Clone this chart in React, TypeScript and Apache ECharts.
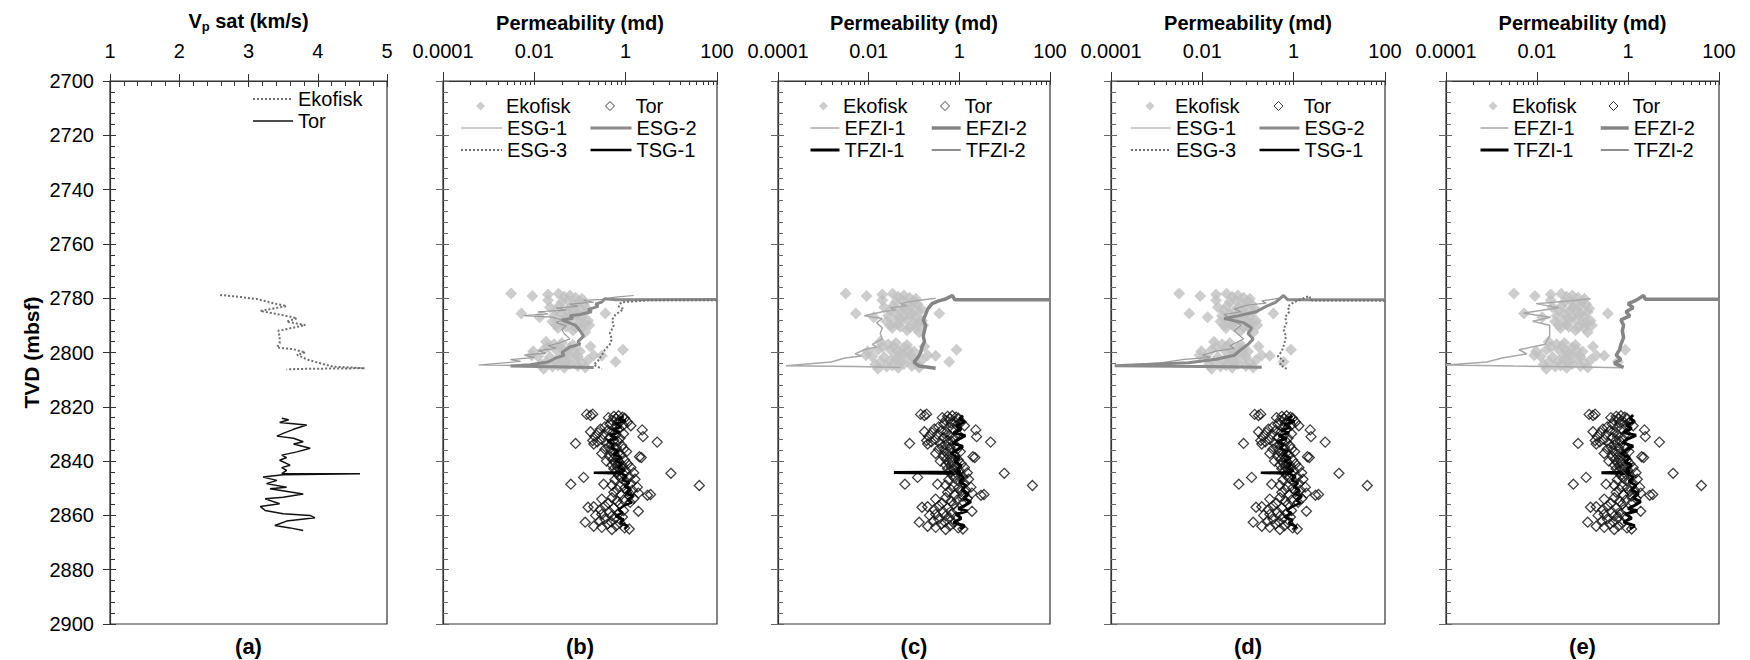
import React, { useEffect, useRef } from 'react';
import * as echarts from 'echarts';

// ---------------- DATA ----------------
// Panel (a): Vp sat (km/s) vs TVD (mbsf)
const vpEkofisk: number[][] = [
  [2.59, 2778.8], [2.9, 2779.6], [3.12, 2780.3], [3.36, 2781.9], [3.55, 2782.9], [3.17, 2784.7],
  [3.36, 2785.6], [3.6, 2786.8], [3.7, 2787.4], [3.55, 2788.6], [3.82, 2789.9], [3.6, 2791.1],
  [3.43, 2792.0], [3.45, 2794.2], [3.45, 2796.6], [3.41, 2798.1], [3.65, 2798.8], [3.82, 2800.0],
  [3.7, 2800.9], [3.86, 2802.7], [4.0, 2803.7], [4.22, 2805.2], [4.68, 2805.8], [3.84, 2806.0], [3.55, 2806.2],
];
const vpTor: number[][] = [
  [3.48, 2824.2], [3.58, 2824.8], [3.45, 2825.8], [3.84, 2826.7], [3.65, 2828.3], [3.5, 2829.8],
  [3.41, 2830.8], [3.65, 2831.6], [3.79, 2832.9], [3.65, 2833.7], [3.89, 2835.3], [3.7, 2836.6],
  [3.48, 2837.8], [3.55, 2838.7], [3.45, 2839.7], [3.6, 2841.5], [3.48, 2842.4], [3.55, 2843.4],
  [3.48, 2844.6], [4.61, 2844.7], [3.5, 2845.0], [3.21, 2845.9], [3.41, 2847.1], [3.26, 2848.3],
  [3.55, 2849.6], [3.31, 2850.2], [3.79, 2852.1], [3.5, 2853.3], [3.24, 2853.9], [3.45, 2855.7],
  [3.17, 2856.7], [3.24, 2858.2], [3.5, 2859.4], [3.89, 2860.0], [3.96, 2860.9], [3.55, 2862.1],
  [3.38, 2863.7], [3.6, 2864.6], [3.79, 2865.6],
];

// Core permeability (md) vs TVD, shared by panels (b)-(e)
const permEkofisk: number[][] = [
  [0.0031, 2778.3], [0.009, 2779.2], [0.02, 2778.6], [0.034, 2778.4], [0.045, 2779.5], [0.06, 2779.0],
  [0.08, 2779.8], [0.11, 2780.2], [0.02, 2780.8], [0.04, 2781.4], [0.055, 2781.0], [0.075, 2782.0],
  [0.12, 2782.2], [0.09, 2783.0], [0.06, 2783.6], [0.14, 2783.8], [0.03, 2784.5], [0.05, 2784.8],
  [0.0052, 2785.6], [0.04, 2785.7], [0.09, 2785.4], [0.13, 2785.0], [0.36, 2785.6], [0.013, 2787.0],
  [0.027, 2786.5], [0.06, 2786.8], [0.11, 2787.0], [0.025, 2788.6], [0.04, 2788.0], [0.07, 2788.2],
  [0.15, 2788.3], [0.1, 2789.3], [0.045, 2789.6], [0.033, 2791.0], [0.05, 2790.5], [0.11, 2791.0],
  [0.07, 2791.8], [0.13, 2792.5], [0.16, 2790.0], [0.035, 2782.8], [0.065, 2784.2], [0.1, 2781.2],
  [0.022, 2783.3], [0.085, 2786.2], [0.05, 2787.6], [0.12, 2789.0], [0.03, 2790.0], [0.08, 2790.8],
  [0.018, 2796.0], [0.027, 2797.0], [0.04, 2796.5], [0.17, 2797.8], [0.0095, 2799.5], [0.016, 2799.0],
  [0.03, 2799.0], [0.045, 2799.5], [0.075, 2799.0], [0.1, 2799.6], [0.87, 2799.0], [0.06, 2798.2],
  [0.0087, 2801.0], [0.012, 2801.5], [0.022, 2801.7], [0.04, 2801.2], [0.055, 2800.6], [0.075, 2802.0],
  [0.15, 2802.8], [0.2, 2801.0], [0.6, 2803.4], [0.03, 2803.0], [0.05, 2803.8], [0.016, 2806.0],
  [0.033, 2804.8], [0.06, 2804.2], [0.09, 2805.0], [0.13, 2805.5], [0.025, 2805.2], [0.3, 2801.2],
  [0.02, 2798.0], [0.035, 2797.8], [0.05, 2800.2], [0.09, 2801.6], [0.018, 2803.5], [0.11, 2803.9],
  [0.07, 2797.2], [0.04, 2802.6], [0.014, 2804.4], [0.045, 2805.6],
];
const permTor: number[][] = [
  [0.14, 2822.8], [0.19, 2822.7], [0.17, 2823.2], [0.42, 2824.0], [0.55, 2823.5], [0.7, 2823.3],
  [0.85, 2823.8], [0.62, 2824.4], [0.95, 2824.2], [0.5, 2825.0], [0.78, 2825.3], [1.1, 2825.6],
  [0.66, 2826.0], [1.3, 2827.0], [0.45, 2826.4], [0.88, 2826.8], [0.35, 2827.4], [0.58, 2827.6],
  [0.28, 2828.2], [0.72, 2828.1], [2.3, 2828.5], [0.4, 2828.8], [0.17, 2829.2], [0.25, 2829.6],
  [0.52, 2829.4], [0.9, 2829.9], [0.33, 2830.2], [0.6, 2830.5], [0.21, 2830.9], [2.4, 2831.0],
  [0.45, 2831.3], [0.75, 2831.6], [0.3, 2832.0], [0.19, 2832.4], [0.55, 2832.3], [0.24, 2832.9],
  [0.68, 2832.8], [0.08, 2833.5], [4.9, 2833.0], [0.38, 2833.4], [0.2, 2833.7], [0.5, 2834.0],
  [0.82, 2834.3], [0.42, 2834.8], [0.63, 2835.2], [0.35, 2835.6], [0.9, 2835.5], [1.05, 2836.5],
  [0.48, 2836.2], [0.7, 2836.8], [0.3, 2837.2], [0.56, 2837.5], [0.8, 2837.8], [2.0, 2838.4],
  [2.2, 2838.7], [0.45, 2838.3], [0.65, 2838.9], [0.52, 2839.4], [0.95, 2839.6], [0.38, 2840.0],
  [0.72, 2840.3], [0.6, 2840.8], [1.1, 2841.0], [0.5, 2841.4], [0.85, 2841.7], [0.66, 2842.2],
  [1.3, 2842.4], [0.55, 2842.8], [0.78, 2843.2], [1.0, 2843.5], [0.62, 2844.0], [9.8, 2844.5],
  [1.5, 2844.3], [0.9, 2844.8], [0.7, 2845.3], [0.12, 2846.0], [1.2, 2845.8], [0.8, 2846.3],
  [1.6, 2846.7], [0.58, 2846.9], [1.0, 2847.4], [0.063, 2848.5], [0.33, 2848.5], [0.5, 2848.9],
  [1.3, 2848.2], [41, 2849.0], [0.75, 2849.3], [1.8, 2849.6], [0.95, 2850.0], [0.65, 2850.4],
  [1.4, 2850.7], [1.1, 2851.2], [0.55, 2851.5], [1.9, 2851.8], [3.0, 2852.6], [3.5, 2852.3],
  [0.8, 2852.4], [1.2, 2852.9], [0.3, 2854.0], [0.5, 2853.5], [1.5, 2853.8], [0.9, 2854.3],
  [0.65, 2854.8], [1.25, 2855.2], [0.42, 2855.5], [0.75, 2855.9], [0.2, 2856.8], [0.15, 2857.0],
  [0.35, 2856.5], [0.55, 2857.3], [0.28, 2857.8], [1.9, 2858.5], [0.9, 2858.2], [0.45, 2858.8],
  [0.7, 2859.3], [0.3, 2859.6], [0.22, 2860.0], [0.5, 2860.2], [0.85, 2860.6], [0.6, 2861.0],
  [0.35, 2861.3], [0.13, 2862.5], [0.27, 2862.0], [0.48, 2862.4], [0.75, 2862.8], [0.4, 2863.2],
  [0.2, 2864.0], [0.3, 2864.4], [0.62, 2863.8], [0.95, 2864.6], [1.2, 2865.0], [0.5, 2865.2],
];

// Panel (b): ESG / TSG model permeability
const bESG1: number[][] = [
  [1.5, 2779.0], [0.6, 2779.6], [0.3, 2780.4], [0.12, 2780.8], [0.2, 2781.5], [0.06, 2782.2],
  [0.09, 2783.0], [0.03, 2783.6], [0.05, 2784.4], [0.012, 2785.0], [0.02, 2785.8], [0.006, 2786.4],
  [0.025, 2787.0], [0.04, 2788.0], [0.03, 2789.0], [0.05, 2790.2], [0.04, 2791.5], [0.045, 2793.0],
  [0.06, 2795.0], [0.035, 2796.5], [0.02, 2797.5], [0.03, 2798.5], [0.012, 2799.3], [0.018, 2800.2],
  [0.006, 2801.0], [0.01, 2801.8], [0.003, 2802.6], [0.005, 2803.3], [0.0006, 2804.6], [0.01, 2804.9],
  [0.05, 2805.3],
];
const bESG2: number[][] = [
  [100, 2780.5], [0.6, 2780.6], [0.35, 2780.2], [0.3, 2781.4], [0.22, 2782.2], [0.25, 2783.0],
  [0.15, 2784.2], [0.18, 2785.0], [0.1, 2786.0], [0.06, 2786.5], [0.07, 2787.4], [0.04, 2788.0],
  [0.08, 2790.0], [0.1, 2792.0], [0.12, 2794.0], [0.09, 2796.0], [0.1, 2797.0], [0.06, 2798.0],
  [0.04, 2800.0], [0.045, 2801.0], [0.03, 2802.0], [0.02, 2803.5], [0.008, 2804.5], [0.003, 2805.0],
  [0.05, 2805.3], [0.2, 2805.5],
];
const bESG3: number[][] = [
  [100, 2780.8], [3.0, 2780.8], [0.8, 2781.5], [0.7, 2783.0], [0.9, 2784.0], [0.6, 2786.0],
  [0.5, 2788.0], [0.55, 2790.0], [0.45, 2793.0], [0.5, 2795.0], [0.45, 2797.0], [0.35, 2799.0],
  [0.3, 2801.0], [0.25, 2803.0], [0.2, 2804.5], [0.3, 2806.0],
];
const bTSG1: number[][] = [
  [0.9, 2823.5], [0.7, 2824.5], [1.0, 2825.2], [0.6, 2826.3], [0.8, 2827.5], [0.5, 2828.4],
  [0.75, 2829.3], [0.45, 2830.5], [0.65, 2831.5], [0.4, 2832.6], [0.55, 2833.8], [0.48, 2835.0],
  [0.7, 2836.2], [0.55, 2837.5], [0.8, 2838.6], [0.6, 2839.8], [0.85, 2841.0], [0.7, 2842.3],
  [0.95, 2843.5], [0.75, 2844.1], [0.2, 2844.3], [0.8, 2844.6], [1.05, 2845.5], [0.85, 2846.8],
  [1.2, 2848.0], [0.95, 2849.3], [1.3, 2850.5], [1.0, 2851.8], [1.45, 2853.0], [1.1, 2854.2],
  [1.35, 2855.3], [0.9, 2856.5], [0.7, 2857.8], [0.85, 2859.0], [0.6, 2860.3], [0.9, 2861.5],
  [0.75, 2862.7], [1.1, 2863.9], [0.95, 2865.0],
];

// Panel (c): EFZI / TFZI model permeability
const cEFZI1: number[][] = [
  [0.3, 2780.0], [0.1, 2781.0], [0.05, 2782.0], [0.07, 2782.8], [0.03, 2783.5], [0.04, 2784.3],
  [0.02, 2785.0], [0.008, 2786.5], [0.02, 2787.5], [0.015, 2789.0], [0.02, 2791.0], [0.018, 2793.0],
  [0.02, 2795.0], [0.012, 2797.0], [0.015, 2798.0], [0.008, 2799.0], [0.005, 2800.5], [0.007, 2801.3],
  [0.003, 2802.0], [0.0015, 2803.5], [0.00015, 2804.9], [0.005, 2805.2], [0.05, 2805.5],
];
const cEFZI2: number[][] = [
  [100, 2780.6], [0.8, 2780.6], [0.7, 2779.0], [0.5, 2780.3], [0.35, 2781.0], [0.25, 2782.0],
  [0.2, 2784.0], [0.18, 2786.0], [0.16, 2788.0], [0.18, 2790.0], [0.17, 2792.0], [0.16, 2794.0],
  [0.17, 2796.0], [0.15, 2798.0], [0.14, 2800.0], [0.12, 2802.0], [0.1, 2803.5], [0.13, 2805.0],
  [0.3, 2805.8],
];
const cTFZI1: number[][] = [
  [1.2, 2823.2], [1.0, 2824.4], [1.3, 2825.6], [0.85, 2827.0], [1.1, 2828.2], [0.75, 2829.6],
  [1.35, 2830.6], [0.95, 2832.0], [0.7, 2833.4], [1.2, 2834.6], [0.85, 2836.1], [0.65, 2837.5],
  [1.0, 2838.9], [0.8, 2840.3], [1.1, 2841.6], [0.9, 2843.0], [1.05, 2844.0], [0.036, 2844.2],
  [0.95, 2844.6], [1.25, 2846.0], [1.0, 2847.6], [1.4, 2849.0], [1.15, 2850.6], [1.6, 2852.1],
  [1.25, 2853.6], [1.8, 2855.0], [1.3, 2856.4], [0.95, 2857.6], [1.5, 2858.4], [0.85, 2859.6],
  [1.1, 2861.1], [0.75, 2862.6], [1.3, 2863.9], [1.05, 2865.1],
];
const cTFZI2: number[][] = [
  [0.75, 2823.5], [0.55, 2825.0], [0.7, 2826.5], [0.48, 2828.0], [0.6, 2829.5], [0.42, 2831.0],
  [0.58, 2832.5], [0.47, 2834.0], [0.66, 2835.5], [0.52, 2837.0], [0.75, 2838.5], [0.6, 2840.0],
  [0.85, 2841.5], [0.66, 2843.0], [0.8, 2844.5], [0.95, 2846.0], [0.76, 2847.5], [1.05, 2849.0],
  [0.85, 2850.5], [1.15, 2852.0], [0.9, 2853.5], [1.05, 2855.0], [0.7, 2856.5], [0.52, 2858.0],
  [0.66, 2859.5], [0.48, 2861.0], [0.62, 2862.5], [0.76, 2864.0], [0.66, 2865.2],
];

// Panel (d): ESG / TSG model permeability
const dESG1: number[][] = [
  [0.5, 2780.0], [0.2, 2781.0], [0.25, 2781.8], [0.1, 2782.5], [0.05, 2784.0], [0.07, 2785.0],
  [0.03, 2786.0], [0.045, 2788.0], [0.07, 2790.0], [0.05, 2792.0], [0.08, 2795.0], [0.04, 2797.5],
  [0.05, 2798.5], [0.02, 2799.5], [0.01, 2801.0], [0.015, 2801.8], [0.004, 2802.5], [0.0012, 2803.8],
  [0.0002, 2804.7], [0.02, 2805.0], [0.1, 2805.3],
];
const dESG2: number[][] = [
  [100, 2780.6], [0.74, 2780.6], [0.6, 2779.0], [0.4, 2781.5], [0.25, 2783.0], [0.15, 2785.0],
  [0.06, 2786.5], [0.03, 2787.5], [0.08, 2789.0], [0.12, 2791.0], [0.1, 2793.0], [0.13, 2795.0],
  [0.1, 2797.0], [0.07, 2799.0], [0.05, 2801.0], [0.02, 2802.5], [0.005, 2803.8], [0.00012, 2804.9],
  [0.01, 2805.2], [0.2, 2805.4],
];
const dESG3: number[][] = [
  [100, 2780.9], [2.4, 2780.8], [2.2, 2779.2], [1.0, 2781.5], [0.75, 2783.0], [0.8, 2785.0],
  [0.65, 2787.0], [0.7, 2789.0], [0.6, 2791.5], [0.68, 2794.0], [0.62, 2797.0], [0.55, 2799.5],
  [0.45, 2801.5], [0.6, 2803.0], [0.5, 2804.5], [0.7, 2806.0],
];
const dTSG1: number[][] = [
  [0.95, 2823.4], [0.72, 2824.6], [1.05, 2825.4], [0.62, 2826.5], [0.85, 2827.7], [0.52, 2828.6],
  [0.8, 2829.5], [0.47, 2830.7], [0.7, 2831.7], [0.43, 2832.8], [0.6, 2834.0], [0.5, 2835.2],
  [0.75, 2836.4], [0.58, 2837.7], [0.85, 2838.8], [0.62, 2840.0], [0.9, 2841.2], [0.72, 2842.5],
  [1.0, 2843.6], [0.78, 2844.1], [0.19, 2844.3], [0.82, 2844.7], [1.1, 2845.7], [0.9, 2847.0],
  [1.25, 2848.2], [1.0, 2849.5], [1.35, 2850.7], [1.05, 2852.0], [1.5, 2853.2], [1.15, 2854.4],
  [1.4, 2855.5], [0.95, 2856.7], [0.72, 2858.0], [0.9, 2859.2], [0.62, 2860.5], [0.95, 2861.7],
  [0.78, 2862.9], [1.15, 2864.1], [1.0, 2865.2],
];

// Panel (e): EFZI / TFZI model permeability
const eEFZI1: number[][] = [
  [0.15, 2780.2], [0.05, 2781.0], [0.0095, 2782.0], [0.03, 2783.5], [0.005, 2785.5], [0.02, 2787.0],
  [0.008, 2788.5], [0.019, 2790.0], [0.019, 2794.0], [0.015, 2797.0], [0.004, 2799.0], [0.006, 2800.5],
  [0.0017, 2802.0], [0.0008, 2803.5], [0.0001, 2804.6], [0.003, 2805.0], [0.1, 2805.3], [0.7, 2805.6],
];
const eEFZI2: number[][] = [
  [100, 2780.4], [2.4, 2780.4], [2.2, 2779.0], [1.5, 2780.8], [1.0, 2782.0], [1.3, 2783.5],
  [0.9, 2785.0], [1.1, 2786.5], [0.7, 2788.0], [0.8, 2790.0], [0.75, 2792.0], [0.8, 2794.5],
  [0.7, 2797.0], [0.65, 2799.0], [0.55, 2801.0], [0.7, 2802.5], [0.5, 2804.0], [0.8, 2805.5],
];
const eTFZI1: number[][] = [
  [1.3, 2823.0], [1.1, 2824.2], [1.4, 2825.4], [0.9, 2826.8], [1.2, 2828.0], [0.8, 2829.5],
  [1.5, 2830.5], [1.0, 2831.8], [0.75, 2833.2], [1.3, 2834.5], [0.9, 2836.0], [0.7, 2837.4],
  [1.1, 2838.8], [0.85, 2840.2], [1.2, 2841.5], [0.95, 2843.0], [1.1, 2844.0], [0.26, 2844.3],
  [1.0, 2844.6], [1.3, 2846.0], [1.05, 2847.5], [1.5, 2849.0], [1.2, 2850.5], [1.7, 2852.0],
  [1.3, 2853.5], [1.9, 2855.0], [1.4, 2856.3], [1.0, 2857.5], [1.6, 2858.3], [0.9, 2859.5],
  [1.2, 2861.0], [0.8, 2862.5], [1.4, 2863.8], [1.1, 2865.0],
];
const eTFZI2: number[][] = [
  [0.8, 2823.5], [0.6, 2825.0], [0.75, 2826.5], [0.5, 2828.0], [0.65, 2829.5], [0.45, 2831.0],
  [0.6, 2832.5], [0.5, 2834.0], [0.7, 2835.5], [0.55, 2837.0], [0.8, 2838.5], [0.65, 2840.0],
  [0.9, 2841.5], [0.7, 2843.0], [0.85, 2844.5], [1.0, 2846.0], [0.8, 2847.5], [1.1, 2849.0],
  [0.9, 2850.5], [1.2, 2852.0], [0.95, 2853.5], [1.1, 2855.0], [0.75, 2856.5], [0.55, 2858.0],
  [0.7, 2859.5], [0.5, 2861.0], [0.65, 2862.5], [0.8, 2864.0], [0.7, 2865.2],
];

const panelLabels = ['(a)', '(b)', '(c)', '(d)', '(e)'];
const permTickLabels: Record<string, string> = { '-4': '0.0001', '-2': '0.01', '0': '1', '2': '100' };

// ---------------- LAYOUT / STYLE ----------------
const FONT = "'Liberation Sans', Arial, Helvetica, sans-serif";
const TOP = 81;
const HEIGHT = 543;
const PANELS = [
  { left: 110, width: 277 },
  { left: 443, width: 274 },
  { left: 778, width: 272 },
  { left: 1111, width: 274 },
  { left: 1446, width: 273 },
];
const AX = '#333';
const LINE_STYLES: Record<string, { color: string; width: number; type: string; z: number }> = {
  'ESG-1': { color: '#9a9a9a', width: 1.2, type: 'solid', z: 3 },
  'ESG-2': { color: '#8a8a8a', width: 3, type: 'solid', z: 3 },
  'ESG-3': { color: '#707070', width: 2, type: 'dotted', z: 3 },
  'TSG-1': { color: '#000', width: 2.5, type: 'solid', z: 4 },
  'EFZI-1': { color: '#a8a8a8', width: 1.5, type: 'solid', z: 3 },
  'EFZI-2': { color: '#858585', width: 3.5, type: 'solid', z: 3 },
  'TFZI-1': { color: '#000', width: 3, type: 'solid', z: 4 },
  'TFZI-2': { color: '#444', width: 1.2, type: 'solid', z: 4 },
  'Ekofisk': { color: '#6e6e6e', width: 2, type: 'dotted', z: 3 },
  'Tor': { color: '#111', width: 1.5, type: 'solid', z: 3 },
};

function buildOption() {
  const grid: any[] = [];
  const xAxis: any[] = [];
  const yAxis: any[] = [];
  const series: any[] = [];
  const legend: any[] = [];
  const graphic: any[] = [];

  // minor ticks of the permeability axes (in decades): k^2 times each labelled value
  const permMinor: number[] = [];
  [-4, -2, 0].forEach((b) => {
    permMinor.push(b);
    for (let k = 2; k <= 9; k++) permMinor.push(b + Math.log10(k * k));
  });
  permMinor.push(2);

  const legendBase = {
    orient: 'vertical',
    padding: 0,
    itemGap: 2,
    itemHeight: 9,
    selectedMode: false,
    formatter: (n: string) => n.split('|')[0],
    textStyle: { fontSize: 20, fontFamily: FONT, color: '#000', lineHeight: 20 },
  };
  const lineItem = (name: string) => {
    const s = LINE_STYLES[name.split('|')[0]];
    return {
      name,
      itemStyle: { opacity: 0, color: 'rgba(0,0,0,0)', borderWidth: 0 },
      lineStyle: { color: s.color, width: s.width, type: s.type, opacity: 1 },
    };
  };

  PANELS.forEach((p, i) => {
    grid.push({
      left: p.left, top: TOP, width: p.width, height: HEIGHT,
      show: true, borderColor: AX, borderWidth: 1.2, backgroundColor: 'transparent',
    });
    const tickCol = i === 0 ? AX : '#666';
    const yMain = yAxis.length;
    yAxis.push({
      gridIndex: i, type: 'value', inverse: true, min: 2700, max: 2900, interval: 20, position: 'left',
      axisLine: { show: true, onZero: false, lineStyle: { color: AX, width: 1.2 } },
      axisTick: { show: true, inside: false, length: 7, lineStyle: { color: tickCol } },
      axisLabel: { show: i === 0, fontSize: 20, fontFamily: FONT, color: '#000', margin: 16, formatter: (v: number) => String(v) },
      splitLine: { show: false },
      name: i === 0 ? 'TVD (mbsf)' : '',
      nameLocation: 'middle', nameGap: 68, nameRotate: 90,
      nameTextStyle: { fontSize: 21, fontWeight: 'bold', fontFamily: FONT, color: '#000' },
    });
    yAxis.push({
      gridIndex: i, type: 'value', inverse: true, min: 2700, max: 2900, interval: 20, position: 'left',
      axisLine: { show: false, onZero: false }, axisLabel: { show: false }, splitLine: { show: false },
      axisTick: { show: true, inside: true, length: 6, lineStyle: { color: tickCol } },
      minorTick: { show: true, splitNumber: 5, length: 5, lineStyle: { color: tickCol } },
      minorSplitLine: { show: false },
    });

    const xMain = xAxis.length;
    if (i === 0) {
      xAxis.push({
        gridIndex: i, type: 'value', position: 'top', min: 1, max: 5, interval: 1,
        axisLine: { show: true, onZero: false, lineStyle: { color: AX, width: 1.2 } },
        axisTick: { show: true, inside: false, length: 7, lineStyle: { color: AX } },
        axisLabel: { fontSize: 20, fontFamily: FONT, color: '#000', margin: 20 },
        splitLine: { show: false },
        name: '{v|V}{p|p}{v| sat (km/s)}',
        nameLocation: 'middle', nameGap: 48,
        nameTextStyle: {
          rich: {
            v: { fontSize: 20, fontWeight: 'bold', fontFamily: FONT, color: '#000' },
            p: { fontSize: 13, fontWeight: 'bold', fontFamily: FONT, color: '#000', padding: [11, 0, 0, 0] },
          },
        },
      });
      xAxis.push({
        gridIndex: i, type: 'value', position: 'top', min: 1, max: 5, interval: 1,
        axisLine: { show: false, onZero: false }, axisLabel: { show: false }, splitLine: { show: false },
        axisTick: { show: true, inside: true, length: 6, lineStyle: { color: AX } },
        minorTick: { show: true, splitNumber: 5, length: 5, lineStyle: { color: AX } },
        minorSplitLine: { show: false },
      });
    } else {
      xAxis.push({
        gridIndex: i, type: 'log', logBase: 10, position: 'top', min: 0.0001, max: 100,
        axisLine: { show: true, onZero: false, lineStyle: { color: AX, width: 1.2 } },
        axisTick: { show: false },
        axisLabel: {
          fontSize: 20, fontFamily: FONT, color: '#000', margin: 20,
          formatter: (v: number) => {
            const e = Math.round(Math.log10(v));
            return permTickLabels[String(e)] || '';
          },
        },
        splitLine: { show: false }, minorTick: { show: false },
        name: 'Permeability (md)', nameLocation: 'middle', nameGap: 48,
        nameTextStyle: { fontSize: 20, fontWeight: 'bold', fontFamily: FONT, color: '#000' },
      });
      xAxis.push({
        gridIndex: i, type: 'value', position: 'top', min: -4, max: 2, interval: 2,
        axisLine: { show: false, onZero: false }, axisLabel: { show: false }, splitLine: { show: false },
        axisTick: { show: true, inside: false, length: 9, lineStyle: { color: AX } },
      });
      xAxis.push({
        gridIndex: i, type: 'value', position: 'top', min: -4, max: 2,
        axisLine: { show: false, onZero: false }, axisLabel: { show: false }, splitLine: { show: false },
        axisTick: { show: true, inside: true, length: 4, customValues: permMinor, lineStyle: { color: AX } },
      });
    }

    graphic.push({
      type: 'text', x: p.left + p.width / 2, y: 646,
      style: { text: panelLabels[i], fontSize: 22, fontWeight: 'bold', fontFamily: FONT, fill: '#000', align: 'center', verticalAlign: 'middle' },
    });

    const line = (name: string, data: number[][]) => {
      const s = LINE_STYLES[name.split('|')[0]];
      return {
        type: 'line', name, data, xAxisIndex: xMain, yAxisIndex: yMain, symbol: 'none', showSymbol: false,
        lineStyle: { color: s.color, width: s.width, type: s.type }, itemStyle: { color: s.color }, z: s.z, silent: true,
      };
    };
    const scat = (name: string, data: number[][], hollow: boolean) => ({
      type: 'scatter', name, data, xAxisIndex: xMain, yAxisIndex: yMain, symbol: 'diamond',
      symbolSize: hollow ? 10 : 12, z: 2, silent: true,
      itemStyle: hollow
        ? { color: 'rgba(255,255,255,0)', borderColor: '#111', borderWidth: 1.3 }
        : { color: '#c0c0c0' },
    });

    const key = 'abcde'[i];
    if (i === 0) {
      series.push(line('Ekofisk|a', vpEkofisk));
      series.push(line('Tor|a', vpTor));
      legend.push({ ...legendBase, itemGap: 2, itemWidth: 40, left: 252, top: 89, data: [lineItem('Ekofisk|a'), lineItem('Tor|a')] });
      return;
    }
    series.push(scat('Ekofisk|' + key, permEkofisk, false));
    series.push(scat('Tor|' + key, permTor, true));
    let names: string[] = [];
    let sets: number[][][] = [];
    if (key === 'b' || key === 'd') {
      names = ['ESG-1', 'ESG-2', 'ESG-3', 'TSG-1'];
      sets = key === 'b' ? [bESG1, bESG2, bESG3, bTSG1] : [dESG1, dESG2, dESG3, dTSG1];
    } else {
      names = ['EFZI-1', 'EFZI-2', 'TFZI-1', 'TFZI-2'];
      sets = key === 'c' ? [cEFZI1, cEFZI2, cTFZI1, cTFZI2] : [eEFZI1, eEFZI2, eTFZI1, eTFZI2];
    }
    names.forEach((n, j) => series.push(line(n + '|' + key, sets[j])));

    const cols: Record<string, number[][]> = {
      b: [[460, 41], [589, 41]],
      c: [[809, 29], [930, 29]],
      d: [[1130, 40], [1258, 40]],
      e: [[1479, 28], [1599, 28]],
    };
    const [c1, c2] = cols[key];
    const DI = 9;
    const ROW1 = 96;
    const ROW2 = 118;
    // scatter rows: small diamond icon centred in the column, text aligned with the line rows
    legend.push({
      ...legendBase, left: c1[0] + c1[1] / 2 - DI / 2, top: ROW1, itemWidth: DI, itemHeight: DI,
      textStyle: { ...legendBase.textStyle, padding: [0, 0, 0, c1[1] / 2 - DI / 2] },
      data: [{ name: 'Ekofisk|' + key, icon: 'diamond', itemStyle: { color: '#c0c0c0', borderWidth: 0 } }],
    });
    legend.push({
      ...legendBase, left: c2[0] + c2[1] / 2 - DI / 2, top: ROW1, itemWidth: DI, itemHeight: DI,
      textStyle: { ...legendBase.textStyle, padding: [0, 0, 0, c2[1] / 2 - DI / 2] },
      data: [{ name: 'Tor|' + key, icon: 'diamond', itemStyle: { color: 'rgba(255,255,255,0)', borderColor: '#111', borderWidth: 1 } }],
    });
    legend.push({
      ...legendBase, left: c1[0], top: ROW2, itemWidth: c1[1],
      data: [lineItem(names[0] + '|' + key), lineItem(names[2] + '|' + key)],
    });
    legend.push({
      ...legendBase, left: c2[0], top: ROW2, itemWidth: c2[1],
      data: [lineItem(names[1] + '|' + key), lineItem(names[3] + '|' + key)],
    });
  });

  return { animation: false, backgroundColor: '#fff', grid, xAxis, yAxis, series, legend, graphic };
}

export default function App() {
  const ref = useRef<HTMLDivElement>(null);
  useEffect(() => {
    if (!ref.current) return;
    const chart = echarts.init(ref.current, null, { renderer: 'svg' });
    chart.setOption(buildOption() as any);
    return () => chart.dispose();
  }, []);
  return <div ref={ref} style={{ position: 'fixed', left: 0, top: 0, width: 1750, height: 660, background: '#fff' }} />;
}
